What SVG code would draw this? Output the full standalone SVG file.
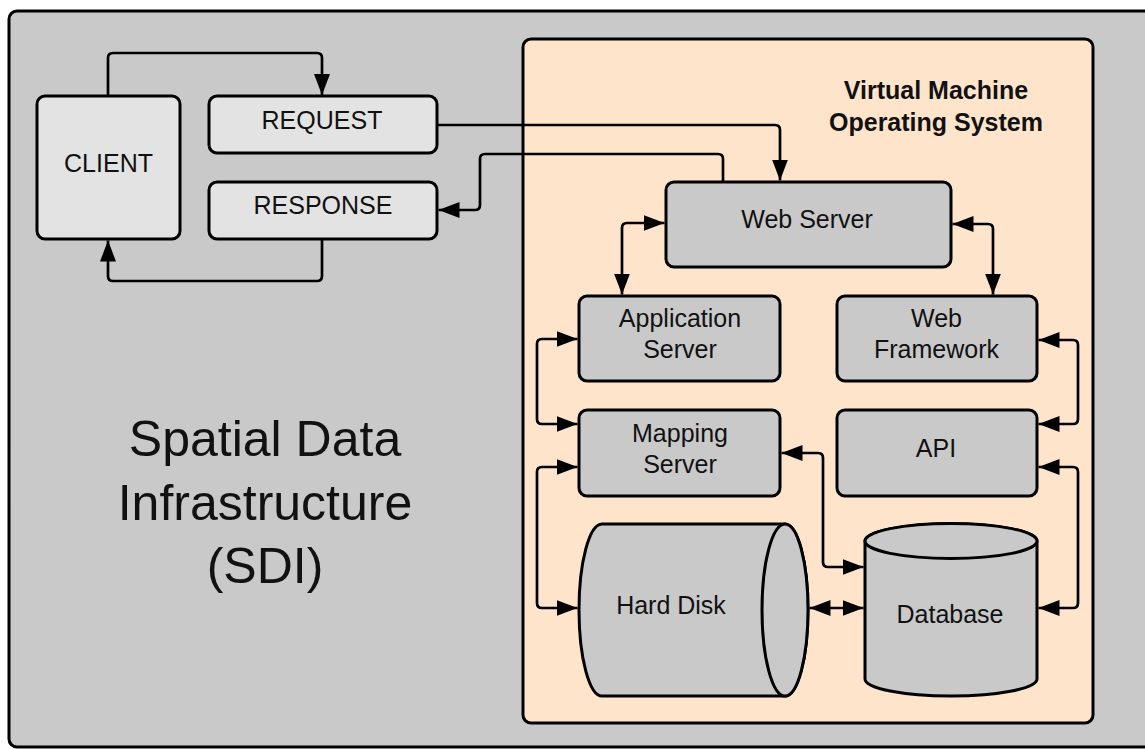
<svg xmlns="http://www.w3.org/2000/svg" width="1145" height="749" viewBox="0 0 1145 749">
<style>
.box{stroke:#000;stroke-width:3}
.lt{fill:#e3e3e3}
.gr{fill:#c9c9c9}
.t{font-family:"Liberation Sans",Arial,sans-serif;font-size:25px;fill:#111;text-anchor:middle}
.b{font-weight:bold}
.big{font-size:50px}
.c{fill:none;stroke:#000;stroke-width:2.7}
.one{marker-end:url(#ah)}
.two{marker-start:url(#ah);marker-end:url(#ah)}
</style>
<defs>
<marker id="ah" markerUnits="userSpaceOnUse" markerWidth="22" markerHeight="16" refX="21" refY="8" orient="auto-start-reverse" viewBox="0 0 22 16">
<path d="M0,0 L21,8 L0,16 Z" fill="#000"/>
</marker>
</defs>
<rect width="1145" height="749" fill="#fff"/>
<g id="sdi">
<rect x="9" y="11" width="1150" height="736" rx="8" fill="#c9c9c9" class="box"/>
<text class="t big" x="265" y="456">Spatial Data</text>
<text class="t big" x="265" y="520">Infrastructure</text>
<text class="t big" x="265" y="583">(SDI)</text>
</g>
<g id="vm">
<rect x="523" y="39" width="570" height="684" rx="8" fill="#ffe4cc" class="box"/>
<text class="t b" x="936" y="99">Virtual Machine</text>
<text class="t b" x="936" y="131">Operating System</text>
</g>
<g id="client">
<rect x="37" y="96" width="143" height="143" rx="8" class="box lt"/>
<text class="t" x="108.5" y="172">CLIENT</text>
</g>
<g id="request">
<rect x="209" y="96" width="228" height="57" rx="8" class="box lt"/>
<text class="t" x="322" y="129">REQUEST</text>
</g>
<g id="response">
<rect x="209" y="182" width="228" height="57" rx="8" class="box lt"/>
<text class="t" x="323" y="214">RESPONSE</text>
</g>
<g id="webserver">
<rect x="666" y="182" width="285" height="85" rx="8" class="box gr"/>
<text class="t" x="807" y="228">Web Server</text>
</g>
<g id="appserver">
<rect x="579" y="296" width="201" height="85" rx="8" class="box gr"/>
<text class="t" x="680" y="327">Application</text>
<text class="t" x="680" y="358">Server</text>
</g>
<g id="webframework">
<rect x="837" y="296" width="200" height="85" rx="8" class="box gr"/>
<text class="t" x="936.5" y="327">Web</text>
<text class="t" x="936.5" y="358">Framework</text>
</g>
<g id="mappingserver">
<rect x="579" y="410" width="201" height="86" rx="8" class="box gr"/>
<text class="t" x="680" y="442">Mapping</text>
<text class="t" x="680" y="473">Server</text>
</g>
<g id="api">
<rect x="837" y="410" width="200" height="86" rx="8" class="box gr"/>
<text class="t" x="936" y="457">API</text>
</g>
<g id="harddisk">
<path d="M602,524 H785 A23,86 0 0 1 785,696 H602 A23,86 0 0 1 602,524 Z" class="box gr"/>
<ellipse cx="785" cy="610" rx="23" ry="86" class="box gr"/>
<text class="t" x="671" y="614">Hard Disk</text>
</g>
<g id="database">
<path d="M865,541 V679 A86,17 0 0 0 1037,679 V541 A86,17 0 0 0 865,541 Z" class="box gr"/>
<ellipse cx="951" cy="541" rx="86" ry="17.5" class="box gr"/>
<text class="t" x="950" y="623">Database</text>
</g>
<g id="connectors">
<path class="c one" d="M108,96 V58 Q108,53 113,53 H317 Q322,53 322,58 V95"/>
<path class="c one" d="M322,239 V276 Q322,281 317,281 H113 Q108,281 108,276 V240.5"/>
<path class="c one" d="M437,125 H775 Q780,125 780,130 V180.5"/>
<path class="c one" d="M723,182 V159 Q723,154 718,154 H485 Q480,154 480,159 V205 Q480,210 475,210 H438.5"/>
<path class="c two" d="M664.5,223 H627 Q622,223 622,228 V294.5"/>
<path class="c two" d="M952.5,224 H988 Q993,224 993,229 V294.5"/>
<path class="c two" d="M577.5,339 H542 Q537,339 537,344 V419 Q537,424 542,424 H577.5"/>
<path class="c two" d="M577.5,467 H542 Q537,467 537,472 V603 Q537,608 542,608 H577.5"/>
<path class="c two" d="M781.5,453 H818 Q823,453 823,458 V562 Q823,567 828,567 H863.5"/>
<path class="c two" d="M1038.5,340 H1073 Q1078,340 1078,345 V419 Q1078,424 1073,424 H1038.5"/>
<path class="c two" d="M1038.5,467 H1073 Q1078,467 1078,472 V603 Q1078,608 1073,608 H1038.5"/>
<path class="c two" d="M809.5,608 H863.5"/>
</g>
</svg>
